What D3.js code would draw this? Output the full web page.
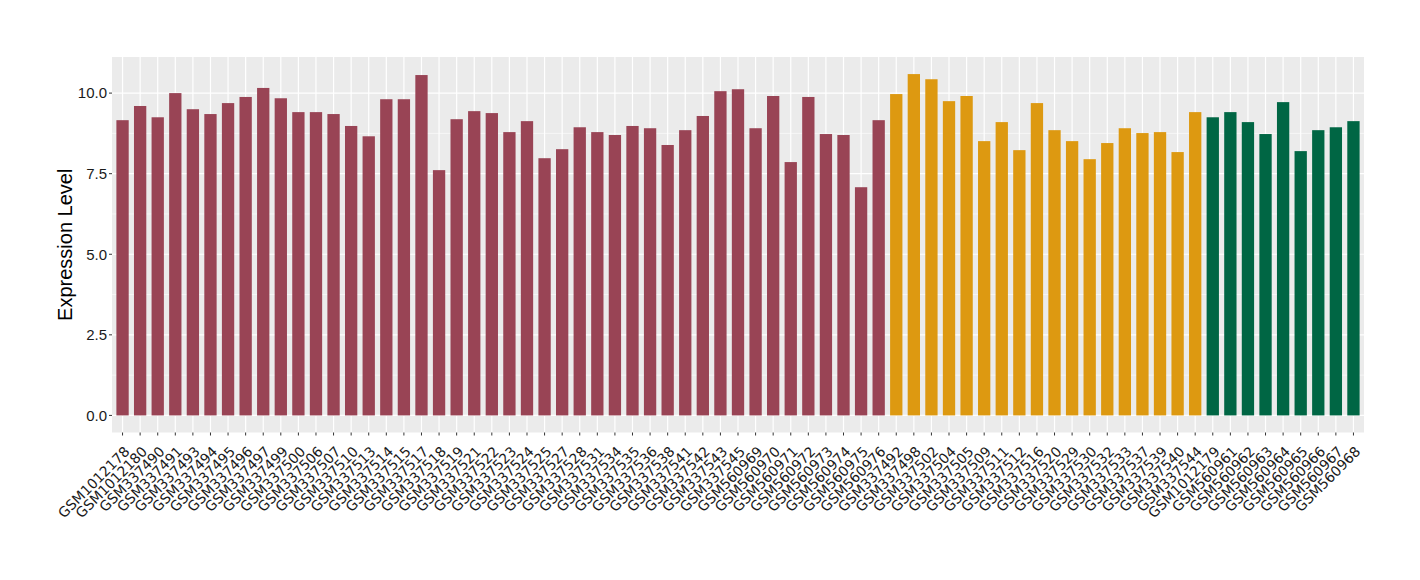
<!DOCTYPE html>
<html><head><meta charset="utf-8">
<script src="https://cdn.jsdelivr.net/npm/d3@7"></script>
<style>body{margin:0;background:#fff;} svg{display:block;font-family:"Liberation Sans",Arial,sans-serif;}</style>
</head><body>
<svg id="chart" width="1420" height="580"></svg>
<script>
const redSamples = ["GSM1012178","GSM1012180","GSM337490","GSM337491","GSM337493","GSM337494","GSM337495","GSM337496","GSM337497","GSM337499","GSM337500","GSM337506","GSM337507","GSM337510","GSM337513","GSM337514","GSM337515","GSM337517","GSM337518","GSM337519","GSM337521","GSM337522","GSM337523","GSM337524","GSM337525","GSM337527","GSM337528","GSM337531","GSM337534","GSM337535","GSM337536","GSM337538","GSM337541","GSM337542","GSM337543","GSM337545","GSM560969","GSM560970","GSM560971","GSM560972","GSM560973","GSM560974","GSM560975","GSM560976"];
const redValues = [9.16,9.60,9.25,10.00,9.50,9.35,9.69,9.88,10.16,9.84,9.41,9.41,9.35,8.98,8.66,9.81,9.81,10.56,7.61,9.19,9.44,9.38,8.79,9.13,7.98,8.26,8.94,8.79,8.70,8.98,8.91,8.39,8.85,9.29,10.06,10.12,8.91,9.91,7.86,9.88,8.73,8.70,7.08,9.16];
const orangeSamples = ["GSM337492","GSM337498","GSM337502","GSM337504","GSM337505","GSM337509","GSM337511","GSM337512","GSM337516","GSM337520","GSM337529","GSM337530","GSM337532","GSM337533","GSM337537","GSM337539","GSM337540","GSM337544"];
const orangeValues = [9.97,10.59,10.43,9.75,9.91,8.51,9.10,8.23,9.69,8.85,8.51,7.95,8.45,8.91,8.76,8.79,8.17,9.41];
const greenSamples = ["GSM1012179","GSM560961","GSM560962","GSM560963","GSM560964","GSM560965","GSM560966","GSM560967","GSM560968"];
const greenValues = [9.25,9.41,9.10,8.73,9.72,8.20,8.85,8.94,9.13];
const yTicks = [0, 2.5, 5, 7.5, 10];
const groupColors = {red:"#994455", orange:"#DD9911", green:"#006644"};

const data = [];
redSamples.forEach((s,i)=>data.push({name:s,value:redValues[i],group:"red"}));
orangeSamples.forEach((s,i)=>data.push({name:s,value:orangeValues[i],group:"orange"}));
greenSamples.forEach((s,i)=>data.push({name:s,value:greenValues[i],group:"green"}));

const svg = d3.select("#chart");
const L=112, R=1364, T=57, B=432.5;
const n = data.length;
const x = d3.scaleLinear().domain([0.4, n+0.6]).range([L,R]);
const y = d3.scaleLinear().domain([-0.53, 11.12]).range([B,T]);
const bw = (x(1)-x(0))*0.7;

svg.append("rect").attr("x",L).attr("y",T).attr("width",R-L).attr("height",B-T).attr("fill","#EBEBEB");
const minor = [1.25,3.75,6.25,8.75];
svg.selectAll(".ming").data(minor).join("line").attr("x1",L).attr("x2",R)
  .attr("y1",d=>y(d)).attr("y2",d=>y(d)).attr("stroke","#fff").attr("stroke-width",0.6);
svg.selectAll(".majg").data(yTicks).join("line").attr("x1",L).attr("x2",R)
  .attr("y1",d=>y(d)).attr("y2",d=>y(d)).attr("stroke","#fff").attr("stroke-width",1.2);
svg.selectAll(".vg").data(data).join("line").attr("y1",T).attr("y2",B)
  .attr("x1",(d,i)=>x(i+1)).attr("x2",(d,i)=>x(i+1)).attr("stroke","#fff").attr("stroke-width",1.2);

svg.selectAll(".bar").data(data).join("rect")
  .attr("x",(d,i)=>x(i+1)-bw/2).attr("width",bw)
  .attr("y",d=>y(d.value)).attr("height",d=>y(0)-y(d.value))
  .attr("fill",d=>groupColors[d.group]);

svg.selectAll(".yt").data(yTicks).join("line").attr("x1",L-3).attr("x2",L)
  .attr("y1",d=>y(d)).attr("y2",d=>y(d)).attr("stroke","#333").attr("stroke-width",1);
svg.selectAll(".yl").data(yTicks).join("text").attr("x",L-5).attr("y",d=>y(d))
  .attr("dy","0.35em").attr("text-anchor","end").attr("font-size",15).attr("fill","#1a1a1a")
  .text(d=>d3.format(".1f")(d));
svg.selectAll(".xt").data(data).join("line").attr("x1",(d,i)=>x(i+1)).attr("x2",(d,i)=>x(i+1))
  .attr("y1",B).attr("y2",B+3).attr("stroke","#333").attr("stroke-width",1);
svg.selectAll(".xl").data(data).join("text")
  .attr("transform",(d,i)=>`translate(${x(i+1)+1},${B+13}) rotate(-45)`)
  .attr("text-anchor","end").attr("font-size",14).attr("fill","#1a1a1a").attr("dy","0.7em")
  .attr("font-family","'DejaVu Sans',sans-serif")
  .text(d=>d.name);

svg.append("text").attr("transform",`translate(72,${(T+B)/2}) rotate(-90)`)
  .attr("text-anchor","middle").attr("font-size",20).attr("fill","#000").text("Expression Level");
</script>
</body></html>
